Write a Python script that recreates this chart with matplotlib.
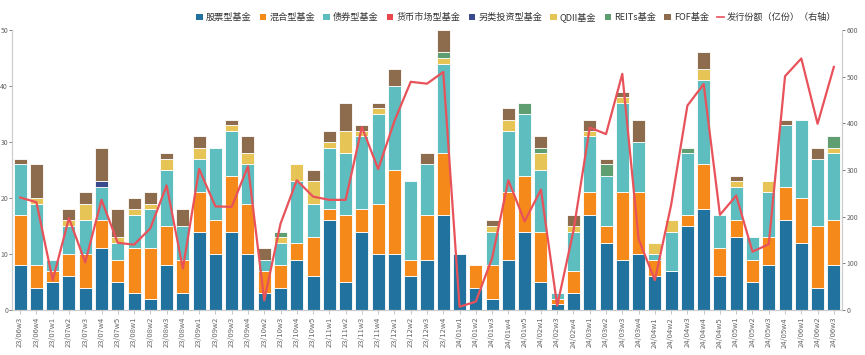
import matplotlib
matplotlib.use("Agg")
import matplotlib.pyplot as plt
import numpy as np
from matplotlib.patches import Patch
from matplotlib.lines import Line2D

plt.rcParams['font.family'] = ['Noto Sans CJK SC', 'DejaVu Sans']

weeks = ["23/06w3","23/06w4","23/07w1","23/07w2","23/07w3","23/07w4","23/07w5",
         "23/08w1","23/08w2","23/08w3","23/08w4","23/09w1","23/09w2","23/09w3","23/09w4",
         "23/10w2","23/10w3","23/10w4","23/10w5","23/11w1","23/11w2","23/11w3","23/11w4",
         "23/12w1","23/12w2","23/12w3","23/12w4","24/01w1","24/01w2","24/01w3","24/01w4","24/01w5",
         "24/02w1","24/02w3","24/02w4","24/03w1","24/03w2","24/03w3","24/03w4",
         "24/04w1","24/04w2","24/04w3","24/04w4","24/04w5","24/05w1","24/05w2","24/05w3","24/05w4",
         "24/06w1","24/06w2","24/06w3"]

stock  = [8,4,5,6,4,11,5,3,2,8,3,14,10,14,10,3,4,9,6,16,5,14,10,10,6,9,17,10,4,2,9,14,5,1,3,17,12,9,10,6,7,15,18,6,13,5,8,16,12,4,8]
mixed  = [9,4,2,4,6,5,4,8,9,7,6,7,6,10,9,4,4,3,7,2,12,4,9,15,3,8,11,0,4,6,12,10,9,1,4,4,3,12,11,3,0,2,8,5,3,4,5,6,8,11,8]
bond   = [9,11,2,5,6,6,3,6,7,10,6,6,13,8,7,2,4,11,6,11,11,13,16,15,14,9,16,0,0,6,11,11,11,1,7,10,9,16,9,1,7,11,15,6,6,4,8,11,14,12,12]
money  = [0]*51
alt    = [0,0,0,0,0,1,0,0,0,0,0,0,0,0,0,0,0,0,0,0,0,0,0,0,0,0,0,0,0,0,0,0,0,0,0,0,0,0,0,0,0,0,0,0,0,0,0,0,0,0,0]
qdii   = [0,1,0,1,3,0,1,1,1,2,0,2,0,1,2,0,1,3,4,1,4,1,1,0,0,0,1,0,0,1,2,0,3,0,1,1,0,1,0,2,2,0,2,0,1,0,2,0,0,0,1]
reits  = [0,0,0,0,0,0,0,0,0,0,0,0,0,0,0,0,1,0,0,0,0,0,0,0,0,0,1,0,0,0,0,2,1,0,0,0,2,0,0,0,0,1,0,0,0,0,0,0,0,0,2]
fof    = [1,6,0,2,2,6,5,2,2,1,3,2,0,1,3,2,0,0,2,2,5,1,1,3,0,2,4,0,0,1,2,0,2,0,2,2,1,1,4,0,0,0,3,0,1,0,0,1,0,2,0]
issue  = [241,231,64,197,102,236,144,140,175,267,89,302,222,221,308,21,185,278,243,236,236,392,302,405,489,485,510,
          7,18,111,278,190,258,9,170,391,377,506,152,64,225,438,484,204,245,125,141,501,539,399,521]

names = ["股票型基金","混合型基金","债券型基金","货币市场型基金","另类投资型基金","QDII基金","REITs基金","FOF基金"]
colors = ["#21729f","#f58a1b","#5dbdbf","#e8484e","#3b4a8c","#e6c556","#5e9e70","#8d6b4d"]
series = [stock, mixed, bond, money, alt, qdii, reits, fof]
line_color = "#e8525a"

fig = plt.figure(figsize=(8.65, 3.55), dpi=100)
ax = fig.add_axes([12/865, 1-310/355, 830/865, 280/355])
x = np.arange(len(weeks))
bottom = np.zeros(len(weeks))
for vals, c in zip(series, colors):
    v = np.array(vals, dtype=float)
    mask = v > 0
    ax.bar(x[mask], v[mask], bottom=bottom[mask], width=0.8, color=c,
           edgecolor="white", linewidth=0.6, zorder=2)
    bottom += v

ax.set_xlim(-0.5, len(weeks)-0.5)
ax.set_ylim(0, 50)
ax.set_yticks([0,10,20,30,40,50])
ax.set_xticks(x)
ax.set_xticklabels(weeks, rotation=90, fontsize=5.5, color="#666666")
ax.tick_params(axis='y', labelsize=5, colors="#666666", length=2, width=0.6, pad=0.8)
ax.tick_params(axis='x', length=3, width=0.6, colors="#bbbbbb", labelcolor="#666666", pad=2)
ax.spines["top"].set_visible(False)
for s in ["left","bottom","right"]:
    ax.spines[s].set_color("#cccccc")
    ax.spines[s].set_linewidth(0.8)

ax2 = ax.twinx()
ax2.plot(x, issue, color=line_color, linewidth=1.6, zorder=5)
ax2.set_ylim(0, 600)
ax2.set_yticks([0,100,200,300,400,500,600])
ax2.tick_params(axis='y', labelsize=5, colors="#666666", length=2.5, width=0.6, pad=1)
ax2.spines["top"].set_visible(False)
for s in ["left","bottom","right"]:
    ax2.spines[s].set_color("#cccccc")
    ax2.spines[s].set_linewidth(0.8)

handles = [Patch(facecolor=c, edgecolor="none") for c in colors]
handles.append(Line2D([0],[0], color=line_color, linewidth=1.2))
labels = names + ["发行份额（亿份）（右轴）"]
fig.legend(handles, labels, loc="center", bbox_to_anchor=(0.597, 0.952), ncol=9,
           frameon=False, fontsize=6.6, handlelength=0.7, handleheight=0.7,
           handletextpad=0.35, columnspacing=0.9, labelcolor="#333333")

fig.savefig("out.png", dpi=100)
